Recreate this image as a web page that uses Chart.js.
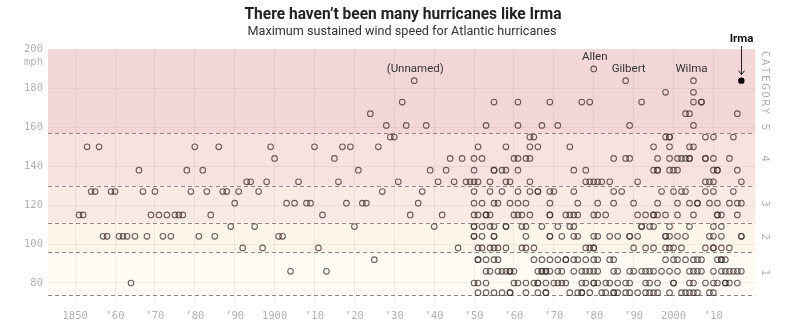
<!DOCTYPE html>
<html>
<head>
<meta charset="utf-8">
<script src="https://cdn.jsdelivr.net/npm/chart.js@4"></script>
<style>
  html, body { margin: 0; padding: 0; background: #fff; }
  #wrap { width: 800px; height: 330px; position: relative; }
</style>
</head>
<body>
<div id="wrap"><canvas id="hurricaneChart"></canvas></div>
<script>
// years of hurricanes, grouped by their max sustained wind (mph)
const mph190 = [1980];
const mph184 = [1935, 1988, 2005];
const mph178 = [1998, 2005];
const mph173 = [1932, 1955, 1961, 1969, 1977, 1979, 1992, 2005, 2007, 2007];
const mph167 = [1924, 2003, 2004, 2016];
const mph161 = [1928, 1933, 1938, 1953, 1961, 1967, 1971, 1989, 2005];
const mph155 = [1929, 1930, 1964, 1965, 1998, 1999, 1999, 2008, 2010, 2015];
const mph150 = [1853, 1856, 1880, 1886, 1899, 1910, 1917, 1919, 1926, 1951, 1958, 1964, 1966, 1974, 1995, 1999, 2004, 2005];
const mph144 = [1900, 1915, 1944, 1947, 1950, 1952, 1960, 1961, 1963, 1964, 1985, 1988, 1989, 1996, 1999, 2001, 2002, 2003, 2004, 2004, 2008, 2008, 2010, 2014];
const mph138 = [1866, 1878, 1882, 1921, 1939, 1943, 1950, 1955, 1955, 1957, 1958, 1961, 1975, 1978, 1995, 1996, 1996, 1999, 2000, 2001, 2010, 2011, 2011, 2016];
const mph132 = [1893, 1894, 1898, 1906, 1916, 1931, 1941, 1945, 1948, 1949, 1950, 1951, 1954, 1958, 1959, 1964, 1978, 1979, 1980, 1981, 1982, 1984, 1991, 2008, 2009, 2010, 2017];
const mph127 = [1854, 1855, 1859, 1860, 1867, 1870, 1879, 1883, 1887, 1888, 1891, 1896, 1927, 1937, 1950, 1954, 1957, 1961, 1964, 1966, 1966, 1969, 1970, 1975, 1985, 1987, 1997, 2000, 2002, 2003, 2008, 2010, 2015];
const mph121 = [1890, 1903, 1905, 1908, 1909, 1918, 1922, 1923, 1936, 1950, 1952, 1955, 1956, 1959, 1961, 1963, 1969, 1976, 1981, 1985, 1990, 1996, 2001, 2004, 2006, 2006, 2009, 2011, 2014, 2016, 2017];
const mph115 = [1851, 1852, 1869, 1871, 1873, 1875, 1876, 1877, 1884, 1912, 1934, 1942, 1950, 1951, 1953, 1953, 1954, 1960, 1961, 1962, 1964, 1969, 1969, 1973, 1974, 1975, 1976, 1980, 1981, 1983, 1991, 1993, 1995, 1995, 1996, 1998, 2001, 2005, 2011, 2011, 2012, 2016];
const mph109 = [1889, 1895, 1920, 1940, 1950, 1950, 1952, 1954, 1955, 1958, 1958, 1962, 1963, 1967, 1971, 1974, 1975, 1992, 1992, 1994, 1995, 1999, 2004, 2010, 2012];
const mph104 = [1857, 1858, 1861, 1862, 1863, 1865, 1868, 1872, 1874, 1881, 1885, 1901, 1902, 1950, 1950, 1952, 1955, 1955, 1963, 1969, 1969, 1972, 1975, 1976, 1980, 1981, 1984, 1986, 1989, 1989, 1991, 1998, 1998, 1999, 2001, 2003, 2009, 2010, 2012, 2017, 2017];
const mph98 = [1892, 1897, 1911, 1946, 1951, 1952, 1954, 1955, 1956, 1958, 1962, 1963, 1965, 1978, 1979, 1980, 1980, 1990, 1993, 1995, 1998, 1999, 2000, 2002, 2008, 2010, 2010, 2012, 2014];
const mph92 = [1925, 1951, 1951, 1953, 1955, 1956, 1965, 1967, 1969, 1971, 1973, 1973, 1975, 1976, 1978, 1980, 1981, 1984, 1985, 1998, 2000, 2001, 2003, 2005, 2006, 2007, 2011, 2012, 2012, 2013];
const mph86 = [1904, 1913, 1953, 1954, 1956, 1957, 1958, 1959, 1959, 1960, 1966, 1967, 1967, 1968, 1968, 1969, 1971, 1972, 1975, 1977, 1978, 1979, 1980, 1981, 1985, 1986, 1989, 1990, 1992, 1993, 1994, 1995, 1997, 1999, 2001, 2004, 2005, 2006, 2007, 2010, 2012, 2013, 2014, 2015, 2016, 2017];
const mph80 = [1864, 1950, 1951, 1953, 1960, 1961, 1963, 1965, 1966, 1966, 1968, 1970, 1971, 1972, 1973, 1977, 1978, 1980, 1980, 1981, 1983, 1984, 1986, 1988, 1989, 1993, 1994, 1996, 2000, 2000, 2004, 2005, 2008, 2010, 2011, 2013, 2013, 2014, 2016];
const mph75 = [1951, 1953, 1955, 1957, 1959, 1959, 1963, 1966, 1968, 1968, 1974, 1976, 1977, 1977, 1979, 1982, 1983, 1985, 1985, 1986, 1988, 1989, 1991, 1993, 1994, 1995, 1996, 1999, 2002, 2003, 2004, 2005, 2006, 2009, 2010];

const speedLevels = [190, 184, 178, 173, 167, 161, 155, 150, 144, 138, 132, 127, 121, 115, 109, 104, 98, 92, 86, 80, 75];
const yearsByLevel = [mph190, mph184, mph178, mph173, mph167, mph161, mph155, mph150, mph144, mph138, mph132, mph127, mph121, mph115, mph109, mph104, mph98, mph92, mph86, mph80, mph75];

const irma = { year: 2017, mph: 184 };
const named = [
  { name: '(Unnamed)', year: 1935, mph: 184 },
  { name: 'Allen', year: 1980, mph: 190 },
  { name: 'Gilbert', year: 1988, mph: 184 },
  { name: 'Wilma', year: 2005, mph: 184 }
];

// Saffir-Simpson thresholds (mph) and category labels
const catLimits = [74, 96, 111, 130, 157, 200];
const catLabels = ['1', '2', '3', '4', 'CATEGORY 5'];
const catColors = ['#fefaf4', '#fdf4ea', '#fbeae3', '#f8e2de', '#f2d6d8'];

const xTicks = [1850, 1860, 1870, 1880, 1890, 1900, 1910, 1920, 1930, 1940, 1950, 1960, 1970, 1980, 1990, 2000, 2010];
const yTicks = [80, 100, 120, 140, 160, 180, 200];

const points = [];
speedLevels.forEach((mph, i) => {
  yearsByLevel[i].forEach(yr => points.push({ x: yr, y: mph }));
});

const tickFont = { family: 'DejaVu Sans Mono', size: 10.5 };
const tickColor = '#b2b2b2';
const gridColor = 'rgba(140,100,100,0.10)';

const backdrop = {
  id: 'backdrop',
  beforeDraw(chart) {
    const { ctx, chartArea: a, scales: { y } } = chart;
    ctx.save();
    for (let i = 0; i < catColors.length; i++) {
      const top = y.getPixelForValue(catLimits[i + 1]);
      const bot = y.getPixelForValue(catLimits[i]);
      ctx.fillStyle = catColors[i];
      ctx.fillRect(a.left, top, a.right - a.left, bot - top);
    }
    ctx.restore();
  },
  beforeDatasetsDraw(chart) {
    const { ctx, chartArea: a, scales: { y } } = chart;
    ctx.save();
    ctx.strokeStyle = '#8f8585';
    ctx.lineWidth = 1;
    ctx.setLineDash([4, 3]);
    for (let i = 0; i < catLimits.length - 1; i++) {
      const py = Math.round(y.getPixelForValue(catLimits[i])) + 0.5;
      ctx.beginPath();
      ctx.moveTo(a.left, py);
      ctx.lineTo(a.right, py);
      ctx.stroke();
    }
    ctx.restore();
  },
  afterDraw(chart) {
    const { ctx, scales: { x, y } } = chart;
    ctx.save();
    ctx.textAlign = 'center';
    ctx.textBaseline = 'middle';

    // title + subtitle
    ctx.fillStyle = '#222';
    ctx.font = 'bold 16px Roboto';
    fitText(ctx, 'There haven\u2019t been many hurricanes like Irma', 403, 15, 317);
    ctx.fillStyle = '#333';
    ctx.font = '13px Roboto';
    fitText(ctx, 'Maximum sustained wind speed for Atlantic hurricanes', 402, 32, 309);

    // "mph" under the top tick
    ctx.font = '10.5px "DejaVu Sans Mono"';
    ctx.fillStyle = tickColor;
    ctx.textAlign = 'right';
    ctx.fillText('mph', 43, y.getPixelForValue(200) + 13);

    // category labels on the right
    for (let i = 0; i < catLabels.length; i++) {
      const cy = (y.getPixelForValue(catLimits[i]) + y.getPixelForValue(catLimits[i + 1])) / 2;
      ctx.save();
      ctx.translate(765, cy);
      ctx.rotate(Math.PI / 2);
      ctx.textAlign = 'center';
      ctx.letterSpacing = '1.5px';
      ctx.font = '11px "DejaVu Sans Mono"';
      ctx.fillStyle = tickColor;
      ctx.fillText(catLabels[i], 0, 0);
      ctx.restore();
    }

    // storm names
    ctx.textAlign = 'center';
    ctx.fillStyle = '#333';
    ctx.font = '11.5px Roboto';
    named.forEach(s => {
      const dx = s.name === 'Gilbert' ? 3 : (s.name === 'Wilma' ? -2 : 1);
      ctx.fillText(s.name, x.getPixelForValue(s.year) + dx, y.getPixelForValue(s.mph) - 12);
    });

    // Irma label + arrow
    const ix = Math.round(x.getPixelForValue(irma.year)) + 0.5;
    const iy = y.getPixelForValue(irma.mph);
    ctx.font = 'bold 11.5px Roboto';
    ctx.fillStyle = '#111';
    ctx.fillText('Irma', ix, 39.5);
    ctx.strokeStyle = '#222';
    ctx.lineWidth = 1;
    ctx.beginPath();
    ctx.moveTo(ix, 46);
    ctx.lineTo(ix, iy - 6);
    ctx.stroke();
    ctx.beginPath();
    ctx.moveTo(ix - 3, iy - 10);
    ctx.lineTo(ix, iy - 6);
    ctx.lineTo(ix + 3, iy - 10);
    ctx.stroke();
    ctx.restore();
  }
};

function fitText(ctx, text, cx, cy, targetW) {
  const w = ctx.measureText(text).width;
  ctx.save();
  ctx.translate(cx, cy);
  ctx.scale(Math.min(1, targetW / w), 1);
  ctx.fillText(text, 0, 0);
  ctx.restore();
}

new Chart('hurricaneChart', {
  type: 'scatter',
  data: {
    datasets: [{
      data: points,
      pointRadius: 2.8,
      borderWidth: 1.1,
      borderColor: 'rgba(60,45,45,0.75)',
      backgroundColor: 'rgba(0,0,0,0)'
    }, {
      data: [{ x: irma.year, y: irma.mph }],
      pointRadius: 3.2,
      borderWidth: 0,
      backgroundColor: '#000'
    }]
  },
  plugins: [backdrop],
  options: {
    responsive: true,
    maintainAspectRatio: false,
    animation: false,
    layout: { padding: { top: 49.5, right: 44.7, left: 0, bottom: 0 } },
    plugins: { legend: { display: false }, tooltip: { enabled: false } },
    scales: {
      x: {
        type: 'linear',
        min: 1843.2,
        max: 2020.5,
        afterFit: s => { s.height = 29.5; },
        afterBuildTicks: s => { s.ticks = xTicks.map(v => ({ value: v })); },
        grid: { color: gridColor, drawTicks: false },
        border: { display: false },
        ticks: {
          padding: 9,
          font: tickFont,
          color: tickColor,
          maxRotation: 0,
          autoSkip: false,
          callback: v => (v === 1850 || v % 100 === 0) ? String(v) : '\u2019' + String(v % 100).padStart(2, '0')
        }
      },
      y: {
        min: 71,
        max: 200,
        afterFit: s => { s.width = 48; },
        afterBuildTicks: s => { s.ticks = yTicks.map(v => ({ value: v })); },
        grid: { color: gridColor, drawTicks: false },
        border: { display: false },
        ticks: { padding: 5, font: tickFont, color: tickColor }
      }
    }
  }
});
</script>
</body>
</html>
